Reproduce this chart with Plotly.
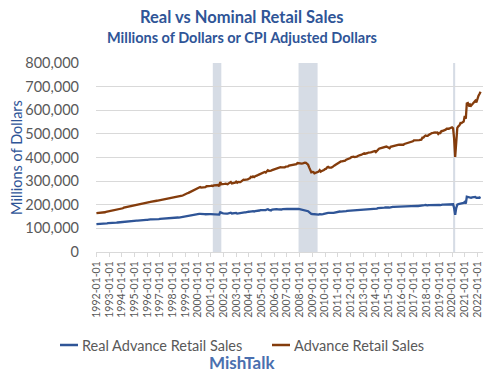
import plotly.graph_objects as go
import pandas as pd

# Monthly observations, 1992-01 through 2022-04
start_month = "1992-01-01"

nominal_sales = [
    # 1992
    164100, 164300, 163800, 164800, 165600, 166100, 166700, 167000, 168200, 169600, 170500, 172100,
    # 1993
    172900, 171800, 173400, 175700, 175900, 176600, 177300, 177900, 179200, 180400, 181600, 183200,
    # 1994
    183300, 185100, 187800, 188700, 188300, 189600, 190100, 192400, 193300, 194800, 196000, 197200,
    # 1995
    197000, 196300, 197800, 198500, 199700, 201900, 201200, 203300, 204600, 204100, 205300, 206600,
    # 1996
    206200, 209300, 210600, 212000, 213300, 212800, 213900, 215000, 215800, 216900, 217300, 218100,
    # 1997
    220200, 221500, 222600, 222100, 221800, 222700, 225000, 226300, 226600, 227200, 227500, 228400,
    # 1998
    229300, 230000, 230800, 232500, 234600, 235400, 234300, 236100, 236200, 238600, 240100, 243100,
    # 1999
    244300, 246900, 248400, 250400, 252700, 253800, 256200, 258500, 260900, 261500, 264300, 267700,
    # 2000
    268800, 273400, 275300, 272600, 272900, 274800, 275100, 274900, 278300, 278000, 277400, 278000,
    # 2001
    279500, 280200, 279000, 281600, 282800, 282700, 282100, 283600, 278000, 296000, 287200, 286700,
    # 2002
    286200, 288700, 289400, 287900, 287000, 290500, 293400, 296300, 290600, 291000, 292200, 293700,
    # 2003
    297700, 293300, 296700, 295800, 296000, 298900, 302600, 306000, 305200, 305100, 307500, 307600,
    # 2004
    310200, 312100, 318000, 316700, 320100, 316900, 320500, 320800, 324200, 326600, 328900, 331100,
    # 2005
    330200, 334100, 334900, 338400, 336500, 341200, 346100, 343100, 342900, 344200, 346900, 348300,
    # 2006
    352800, 353500, 354900, 356200, 355300, 356800, 358700, 358200, 357400, 357000, 358700, 361400,
    # 2007
    360900, 362000, 365700, 366500, 367800, 366900, 367600, 368700, 371900, 372100, 376500, 375400,
    # 2008
    374300, 372800, 373900, 375000, 377300, 378000, 377200, 374200, 369500, 358300, 345100, 337300,
    # 2009
    339300, 338100, 333000, 334400, 335600, 339000, 340100, 346300, 340200, 343200, 347200, 347300,
    # 2010
    350700, 352300, 358000, 360200, 357700, 356700, 357400, 359400, 361400, 366400, 369500, 372500,
    # 2011
    375300, 378400, 382500, 383400, 383500, 384200, 385800, 386900, 390600, 392600, 393300, 394200,
    # 2012
    398000, 402100, 404000, 403300, 402000, 401200, 403300, 406500, 410200, 410000, 410800, 413000,
    # 2013
    414700, 418100, 416000, 415800, 418200, 420800, 420300, 421700, 423000, 424400, 426700, 427500,
    # 2014
    422700, 428200, 434000, 437100, 438300, 439900, 440400, 444000, 442600, 444700, 446400, 444300,
    # 2015
    441400, 439000, 445100, 446400, 450000, 451500, 452800, 453000, 453100, 453400, 454000, 453500,
    # 2016
    454800, 453400, 453900, 457200, 458500, 460000, 460600, 460500, 463000, 465500, 466500, 468500,
    # 2017
    472800, 472700, 471300, 473800, 473200, 473500, 474300, 474900, 483900, 484000, 489500, 493200,
    # 2018
    491700, 491300, 495200, 498300, 503400, 503700, 504100, 505600, 506100, 505200, 505800, 499700,
    # 2019
    504400, 503500, 511800, 512100, 513200, 514800, 517800, 521600, 520000, 521600, 523900, 525200,
    # 2020
    527300, 523600, 480900, 402000, 484100, 525700, 532000, 536000, 546100, 545900, 549500, 551900,
    # 2021
    575600, 563800, 628400, 630500, 620800, 625000, 619200, 625900, 630900, 638700, 640300, 632900,
    # 2022
    652700, 661400, 668400, 678700,
]

real_sales = [
    # 1992
    117900, 118000, 117400, 118100, 118600, 118800, 119100, 119200, 119900, 120700, 121200, 121900,
    # 1993
    122000, 121100, 122000, 123300, 123300, 123600, 124000, 124300, 124900, 125400, 126000, 126900,
    # 1994
    126900, 127800, 129300, 129600, 129200, 129800, 129900, 130900, 131200, 132000, 132700, 133100,
    # 1995
    132800, 131900, 132600, 132700, 133300, 134600, 133900, 135000, 135700, 135000, 135600, 136000,
    # 1996
    135600, 137200, 137700, 137900, 138300, 138100, 138500, 138900, 138900, 139300, 139200, 139500,
    # 1997
    140300, 140800, 141100, 140700, 140600, 140900, 142000, 142500, 142400, 142400, 142400, 143000,
    # 1998
    143500, 143700, 144000, 144600, 145700, 146000, 145200, 146200, 146200, 147400, 148200, 149700,
    # 1999
    150300, 151800, 152300, 152800, 153900, 154600, 155700, 156400, 157300, 157500, 159000, 160400,
    # 2000
    160100, 161600, 161300, 160300, 160100, 160300, 160200, 159800, 160600, 160400, 159900, 160000,
    # 2001
    160500, 160400, 159800, 160600, 160700, 160400, 160400, 160900, 158400, 168200, 164500, 164400,
    # 2002
    163500, 164000, 163800, 162500, 162100, 163800, 165000, 166200, 163200, 163400, 163800, 164300,
    # 2003
    165300, 162300, 163400, 163300, 163800, 165300, 167000, 168300, 167500, 167600, 169300, 169400,
    # 2004
    170400, 170800, 173300, 172400, 173000, 171000, 172900, 173100, 174300, 174300, 175600, 177300,
    # 2005
    176800, 178000, 177300, 177900, 177600, 179800, 181200, 178600, 175600, 176100, 179300, 180400,
    # 2006
    181100, 181800, 181800, 181000, 180000, 180500, 180700, 179900, 181100, 182100, 182600, 183100,
    # 2007
    182400, 182000, 182400, 181800, 181500, 181000, 181700, 182600, 183100, 182300, 182700, 182000,
    # 2008
    181000, 180300, 180000, 179800, 179900, 178200, 176500, 175500, 172800, 168500, 164000, 161500,
    # 2009
    160800, 160400, 157800, 158000, 157600, 157500, 158200, 160200, 158600, 159200, 160000, 160400,
    # 2010
    161500, 162400, 164500, 165200, 164600, 164300, 164600, 165300, 166000, 167300, 168200, 168900,
    # 2011
    170500, 171000, 171300, 170900, 170700, 171300, 171700, 171500, 172600, 173700, 174000, 174600,
    # 2012
    176800, 177800, 177700, 177100, 177400, 177600, 178300, 178500, 178900, 178600, 179600, 180700,
    # 2013
    180000, 180500, 180200, 180600, 181200, 181700, 181400, 181900, 182200, 182900, 183400, 183600,
    # 2014
    182600, 183500, 185300, 186300, 186700, 187000, 187100, 188200, 187900, 188600, 189600, 189300,
    # 2015
    188300, 187700, 189600, 189900, 190800, 191200, 191500, 191700, 191900, 191800, 191900, 191900,
    # 2016
    192700, 192100, 191800, 192200, 192000, 192300, 192700, 192500, 193300, 193600, 193900, 194200,
    # 2017
    194500, 194500, 194500, 195000, 194800, 195000, 195000, 194700, 196500, 196900, 198200, 199000,
    # 2018
    197600, 197600, 198400, 198700, 199500, 199700, 199700, 199900, 200100, 199400, 200100, 199100,
    # 2019
    199500, 198700, 200600, 200100, 200700, 201000, 201300, 202300, 201900, 202000, 202300, 202600,
    # 2020
    202900, 202000, 186400, 157500, 186000, 200800, 202400, 203300, 207100, 206000, 206400, 207700,
    # 2021
    212000, 205000, 234000, 233000, 229000, 231000, 229000, 231000, 232000, 234000, 233000, 229000,
    # 2022
    231000, 230000, 229500, 232500,
]

dates = pd.date_range(start_month, periods=len(nominal_sales), freq="MS")

recessions = [
    ("2001-03-01", "2001-11-01"),
    ("2007-12-01", "2009-06-01"),
    ("2020-02-01", "2020-04-01"),
]

title_text = "Real vs Nominal Retail Sales"
subtitle_text = "Millions of Dollars or CPI Adjusted Dollars"
source_text = "MishTalk"
y_title = "Millions of Dollars"
series_names = ["Real Advance Retail Sales", "Advance Retail Sales"]

BLUE = "#2F5597"
BROWN = "#843C0C"
GRAY = "#595959"
FONT = "Lato, 'Open Sans', sans-serif"

# The page body adds an 8px offset; figure coordinates below are screen - 8.
OFF = 8
W, H = 500 - OFF, 375 - OFF
L = 96 - OFF
T = 63 - OFF
plot_bottom = 252 - OFF
plot_right = 483 - OFF
R = W - plot_right
B = H - plot_bottom
plot_h = plot_bottom - T
plot_w = plot_right - L


def px(sx):
    return (sx - OFF - L) / plot_w


def py(sy):
    return (plot_bottom - (sy - OFF)) / plot_h


cx = px(242)

fig = go.Figure()
fig.add_trace(go.Scatter(x=dates, y=real_sales, mode="lines", name=series_names[0],
                         line=dict(color=BLUE, width=2.3), showlegend=False))
fig.add_trace(go.Scatter(x=dates, y=nominal_sales, mode="lines", name=series_names[1],
                         line=dict(color=BROWN, width=2.3), showlegend=False))

for a, b in recessions:
    fig.add_shape(type="rect", xref="x", yref="paper", x0=a, x1=b, y0=0, y1=1,
                  fillcolor="#D6DCE5", line=dict(width=0), layer="below")

# Legend (drawn as keys + labels)
legend_y = py(345)
for (x0, x1, tx), name, col in zip([(60, 78, 80), (272, 290, 292)], series_names, [BLUE, BROWN]):
    fig.add_shape(type="line", xref="paper", yref="paper", x0=px(x0), x1=px(x1),
                  y0=legend_y, y1=legend_y, line=dict(color=col, width=2.5))
    fig.add_annotation(text=name, xref="paper", yref="paper", x=px(tx), y=legend_y,
                       xanchor="left", yanchor="middle", showarrow=False,
                       font=dict(family=FONT, size=14.5, color=GRAY))

fig.add_annotation(text="<b>" + title_text + "</b>", xref="paper", yref="paper",
                   x=cx, y=py(17), xanchor="center", yanchor="middle",
                   showarrow=False, font=dict(family=FONT, size=16.5, color=BLUE))
fig.add_annotation(text="<b>" + subtitle_text + "</b>", xref="paper", yref="paper",
                   x=cx, y=py(38), xanchor="center", yanchor="middle",
                   showarrow=False, font=dict(family=FONT, size=14.5, color=BLUE))
fig.add_annotation(text="<b>" + source_text + "</b>", xref="paper", yref="paper",
                   x=cx, y=py(362), xanchor="center", yanchor="middle",
                   showarrow=False, font=dict(family=FONT, size=17, color="#4A6FAF"))

fig.update_layout(
    width=W, height=H,
    margin=dict(l=L, r=R, t=T, b=B, autoexpand=False),
    paper_bgcolor="white", plot_bgcolor="white",
    font=dict(family=FONT, color=GRAY),
    showlegend=False,
    xaxis=dict(
        type="date", automargin=False,
        range=["1991-12-20", "2022-06-10"],
        tick0="1992-01-01", dtick="M12", tickformat="%Y-%m-%d",
        tickangle=-90, tickfont=dict(size=10.5, color=GRAY),
        showgrid=False, showline=True, linecolor="#D9D9D9", linewidth=1,
        ticks="outside", ticklen=4, tickcolor="#D9D9D9",
    ),
    yaxis=dict(
        automargin=False,
        range=[0, 800000], dtick=100000, tickformat=",d",
        tickfont=dict(size=14.5, color=GRAY), ticklabelstandoff=16,
        showgrid=True, gridcolor="#D9D9D9", gridwidth=1,
        zeroline=False, showline=False,
        title=dict(text=y_title, font=dict(size=14.5, color=BLUE), standoff=2),
    ),
)

fig.write_html("out.html")
